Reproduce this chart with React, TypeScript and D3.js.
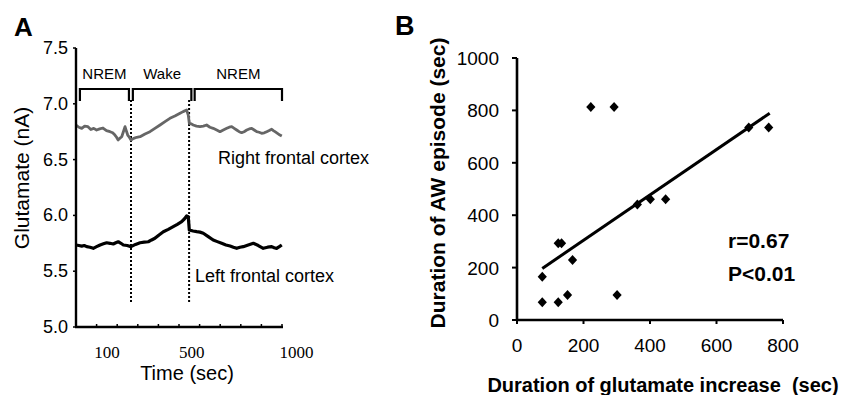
import React from "react";
import * as d3 from "d3";

// ---------- Panel A data ----------
const rightTrace: [number, number][] = [
  [0, 6.81], [14, 6.79], [28, 6.78], [42, 6.8], [58, 6.795], [72, 6.77], [86, 6.78], [100, 6.765],
  [115, 6.775], [131, 6.783], [148, 6.76], [165, 6.75], [178, 6.74], [189, 6.72], [197, 6.7],
  [204, 6.676], [212, 6.69], [222, 6.705], [230, 6.75], [238, 6.795], [244, 6.76], [251, 6.72],
  [259, 6.7], [267, 6.676], [280, 6.69], [295, 6.7], [311, 6.705], [335, 6.73], [359, 6.75],
  [383, 6.78], [408, 6.81], [432, 6.84], [456, 6.87], [480, 6.89], [505, 6.915], [520, 6.93],
  [537, 6.944], [545, 6.9], [550, 6.825], [560, 6.82], [569, 6.81], [585, 6.8], [602, 6.795],
  [618, 6.8], [634, 6.81], [650, 6.79], [666, 6.78], [683, 6.765], [699, 6.75], [715, 6.765],
  [732, 6.78], [744, 6.79], [756, 6.795], [768, 6.78], [780, 6.765], [792, 6.75], [804, 6.741],
  [816, 6.75], [829, 6.765], [841, 6.775], [853, 6.78], [865, 6.765], [877, 6.75], [889, 6.745],
  [901, 6.736], [914, 6.74], [926, 6.75], [938, 6.76], [950, 6.772], [958, 6.76], [966, 6.75],
  [978, 6.735], [990, 6.72], [999, 6.711],
];

const leftTrace: [number, number][] = [
  [0, 5.735], [14, 5.73], [28, 5.725], [40, 5.73], [52, 5.72], [68, 5.715], [84, 5.705],
  [100, 5.72], [117, 5.735], [133, 5.745], [149, 5.755], [165, 5.75], [181, 5.744], [193, 5.755],
  [205, 5.764], [218, 5.75], [230, 5.735], [248, 5.73], [267, 5.72], [289, 5.74], [311, 5.755],
  [331, 5.76], [351, 5.764], [367, 5.78], [383, 5.795], [403, 5.825], [424, 5.854], [448, 5.875],
  [472, 5.899], [492, 5.92], [513, 5.944], [527, 5.97], [537, 5.995], [545, 5.988], [550, 5.869],
  [568, 5.86], [586, 5.854], [602, 5.85], [618, 5.84], [642, 5.81], [666, 5.78], [686, 5.765],
  [707, 5.75], [728, 5.735], [748, 5.726], [764, 5.715], [780, 5.705], [796, 5.715], [812, 5.72],
  [836, 5.735], [861, 5.75], [885, 5.73], [909, 5.705], [930, 5.715], [950, 5.72], [962, 5.71],
  [974, 5.705], [987, 5.72], [999, 5.735],
];

const glutTicks = [5.0, 5.5, 6.0, 6.5, 7.0, 7.5];
const timeTickLabels = ["100", "500", "1000"];
const timeTickLabelPos = [150, 562, 1070];
const stateLabels = ["NREM", "Wake", "NREM"];
const stateStart = [19, 276, 576];
const stateEnd = [257, 560, 1000];
const transitionTimes = [267, 549];

// ---------- Panel B data ----------
const glutIncrease = [222, 292, 697, 757, 362, 401, 447, 124, 134, 167, 76, 76, 124, 152, 301];
const awDuration = [813, 813, 735, 735, 441, 461, 461, 293, 293, 229, 165, 68, 68, 95, 95];
const bTicksX = [0, 200, 400, 600, 800];
const bTicksY = [0, 200, 400, 600, 800, 1000];
const fitRange = [76, 760];
const fitSlope = 0.866;
const fitIntercept = 131;

const SANS = "'Liberation Sans', Arial, sans-serif";
const SERIF = "'Liberation Serif', 'Times New Roman', serif";

export default function App() {
  // Panel A scales
  const xA = d3.scaleLinear().domain([0, 1000]).range([76, 282]);
  const yA = d3.scaleLinear().domain([5, 7.5]).range([327, 48]);
  const lineA = d3
    .line<[number, number]>()
    .x((d) => xA(d[0]))
    .y((d) => yA(d[1]));
  const minorTimeTicks = d3.range(100, 1001, 100);

  // Panel B scales
  const xB = d3.scaleLinear().domain([0, 800]).range([517, 783]);
  const yB = d3.scaleLinear().domain([0, 1000]).range([320, 58]);

  const diamond = (cx: number, cy: number) =>
    `M${cx},${cy - 5}L${cx + 4.6},${cy}L${cx},${cy + 5}L${cx - 4.6},${cy}Z`;

  const bracketTop = 89;
  const bracketDrop = 101;

  return (
    <svg
      width={851}
      height={395}
      style={{ position: "absolute", left: 0, top: 0, background: "#fff" }}
      fontFamily={SANS}
    >
      <rect width={851} height={395} fill="#fff" />
      {/* ---------------- Panel A ---------------- */}
      <text x={14} y={36} fontSize={26} fontWeight="bold">A</text>

      {/* state brackets */}
      {stateLabels.map((lab, i) => {
        const x0 = xA(stateStart[i]);
        const x1 = xA(stateEnd[i]);
        return (
          <g key={"st" + i}>
            <path
              d={`M${x0},${bracketDrop}V${bracketTop}H${x1}V${bracketDrop}`}
              fill="none"
              stroke="#000"
              strokeWidth={2.2}
            />
            <text x={(x0 + x1) / 2} y={79} fontSize={15} textAnchor="middle">
              {lab}
            </text>
          </g>
        );
      })}

      {/* transition dotted lines */}
      {transitionTimes.map((t, i) => (
        <line
          key={"tr" + i}
          x1={xA(t)}
          x2={xA(t)}
          y1={100}
          y2={303}
          stroke="#000"
          strokeWidth={2}
          strokeDasharray="2,2"
        />
      ))}

      {/* traces */}
      <path d={lineA(rightTrace) || ""} fill="none" stroke="#666" strokeWidth={2.8} strokeLinejoin="round" />
      <path d={lineA(leftTrace) || ""} fill="none" stroke="#000" strokeWidth={3.2} strokeLinejoin="round" />

      {/* axes */}
      <line x1={76} x2={76} y1={yA(7.5)} y2={yA(5)} stroke="#000" strokeWidth={2.4} />
      <line x1={75} x2={283} y1={yA(5)} y2={yA(5)} stroke="#000" strokeWidth={2.4} />
      {glutTicks.map((v) => (
        <g key={"gy" + v}>
          <line x1={73} x2={76} y1={yA(v)} y2={yA(v)} stroke="#000" strokeWidth={1.5} />
          <text x={68} y={yA(v) + 6} fontSize={18} textAnchor="end">
            {v.toFixed(1)}
          </text>
        </g>
      ))}
      {minorTimeTicks.map((t) => (
        <line key={"tx" + t} x1={xA(t)} x2={xA(t)} y1={yA(5)} y2={yA(5) - 3} stroke="#000" strokeWidth={1.5} />
      ))}
      {timeTickLabels.map((lab, i) => (
        <text
          key={"tl" + i}
          x={xA(timeTickLabelPos[i])}
          y={358}
          fontSize={17}
          fontFamily={SERIF}
          textAnchor="middle"
        >
          {lab}
        </text>
      ))}
      <text x={187} y={380} fontSize={20} textAnchor="middle">Time (sec)</text>
      <text
        transform={`translate(29,178) rotate(-90)`}
        fontSize={21}
        textAnchor="middle"
      >
        Glutamate (nA)
      </text>
      <text x={218} y={164} fontSize={18}>Right frontal cortex</text>
      <text x={195} y={282} fontSize={18}>Left frontal cortex</text>

      {/* ---------------- Panel B ---------------- */}
      <text x={395} y={35} fontSize={27} fontWeight="bold">B</text>

      <line x1={517} x2={517} y1={yB(1000)} y2={yB(0)} stroke="#000" strokeWidth={2.6} />
      <line x1={516} x2={xB(800)} y1={yB(0)} y2={yB(0)} stroke="#000" strokeWidth={2.6} />
      {bTicksY.map((v) => (
        <g key={"by" + v}>
          <line x1={512} x2={517} y1={yB(v)} y2={yB(v)} stroke="#000" strokeWidth={2} />
          <text x={499} y={yB(v) + 7} fontSize={19} textAnchor="end">
            {v}
          </text>
        </g>
      ))}
      {bTicksX.map((v) => (
        <g key={"bx" + v}>
          <line x1={xB(v)} x2={xB(v)} y1={yB(0)} y2={yB(0) + 4} stroke="#000" strokeWidth={2} />
          <text x={xB(v)} y={352} fontSize={19} textAnchor="middle">
            {v}
          </text>
        </g>
      ))}

      {/* regression line */}
      <line
        x1={xB(fitRange[0])}
        y1={yB(fitIntercept + fitSlope * fitRange[0])}
        x2={xB(fitRange[1])}
        y2={yB(fitIntercept + fitSlope * fitRange[1])}
        stroke="#000"
        strokeWidth={3}
      />

      {/* points */}
      {glutIncrease.map((gx, i) => (
        <path key={"pt" + i} d={diamond(xB(gx), yB(awDuration[i]))} fill="#000" />
      ))}

      <text x={728} y={248} fontSize={21} fontWeight="bold">r=0.67</text>
      <text x={728} y={281} fontSize={21} fontWeight="bold">P&lt;0.01</text>

      <text
        transform={`translate(445,183) rotate(-90)`}
        fontSize={21}
        fontWeight="bold"
        textAnchor="middle"
      >
        Duration of AW episode (sec)
      </text>
      <text x={663} y={392} fontSize={20} fontWeight="bold" textAnchor="middle" style={{ whiteSpace: "pre" }}>
        {"Duration of glutamate increase  (sec)"}
      </text>
    </svg>
  );
}
